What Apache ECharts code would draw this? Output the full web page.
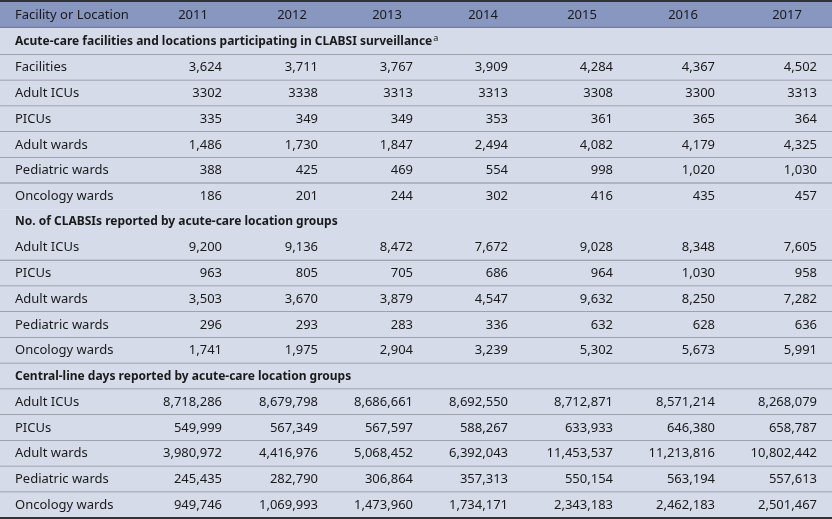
<!DOCTYPE html>
<html>
<head>
<meta charset="utf-8">
<script src="https://cdn.jsdelivr.net/npm/echarts@6/dist/echarts.min.js"></script>
<style>
  html, body { margin: 0; padding: 0; background: #fff; }
  #chart { width: 832px; height: 519px; }
</style>
</head>
<body>
<div id="chart"></div>
<script>
// column headers
const firstHeader = 'Facility or Location'
const years = ['2011', '2012', '2013', '2014', '2015', '2016', '2017']

// section titles
const sectionTitles = [
  'Acute-care facilities and locations participating in CLABSI surveillance',
  'No. of CLABSIs reported by acute-care location groups',
  'Central-line days reported by acute-care location groups',
]

// row labels per section
const facilityLabels = ['Facilities', 'Adult ICUs', 'PICUs', 'Adult wards', 'Pediatric wards', 'Oncology wards']
const locationLabels = ['Adult ICUs', 'PICUs', 'Adult wards', 'Pediatric wards', 'Oncology wards']

// participating facilities / locations
const participating = [
  ['3,624', '3,711', '3,767', '3,909', '4,284', '4,367', '4,502'],
  ['3302', '3338', '3313', '3313', '3308', '3300', '3313'],
  ['335', '349', '349', '353', '361', '365', '364'],
  ['1,486', '1,730', '1,847', '2,494', '4,082', '4,179', '4,325'],
  ['388', '425', '469', '554', '998', '1,020', '1,030'],
  ['186', '201', '244', '302', '416', '435', '457'],
]

// CLABSIs reported
const clabsis = [
  ['9,200', '9,136', '8,472', '7,672', '9,028', '8,348', '7,605'],
  ['963', '805', '705', '686', '964', '1,030', '958'],
  ['3,503', '3,670', '3,879', '4,547', '9,632', '8,250', '7,282'],
  ['296', '293', '283', '336', '632', '628', '636'],
  ['1,741', '1,975', '2,904', '3,239', '5,302', '5,673', '5,991'],
]

// central-line days reported
const lineDays = [
  ['8,718,286', '8,679,798', '8,686,661', '8,692,550', '8,712,871', '8,571,214', '8,268,079'],
  ['549,999', '567,349', '567,597', '588,267', '633,933', '646,380', '658,787'],
  ['3,980,972', '4,416,976', '5,068,452', '6,392,043', '11,453,537', '11,213,816', '10,802,442'],
  ['245,435', '282,790', '306,864', '357,313', '550,154', '563,194', '557,613'],
  ['949,746', '1,069,993', '1,473,960', '1,734,171', '2,343,183', '2,462,183', '2,501,467'],
]

// 布局: 每列数字的右边缘 (x 轴像素值)
const colRight = [222, 318, 413, 508, 613, 715, 817]
const headerCenter = [193, 292, 387, 483, 582, 683, 787]

const FONT = '"Noto Sans", sans-serif'
const HEADER_H = 28

// 拼出所有行
const rows = []
const pushSection = (title, labels, values) => {
  rows.push({ kind: 'section', label: title })
  labels.forEach((l, i) => rows.push({ kind: 'data', label: l, values: values[i] }))
}
pushSection(sectionTitles[0], facilityLabels, participating)
pushSection(sectionTitles[1], locationLabels, clabsis)
pushSection(sectionTitles[2], locationLabels, lineDays)

const chart = echarts.init(document.getElementById('chart'))

const renderItem = (params, api) => {
  const idx = api.value(0)
  const row = rows[idx]
  const center = api.coord([0, idx])
  const h = api.size([0, 1])[1]
  const top = center[1] - h / 2
  const left = api.coord([0, idx])[0]
  const right = api.coord([832, idx])[0]
  const children = [
    {
      type: 'rect',
      shape: { x: left, y: top, width: right - left, height: h },
      style: { fill: '#d5dbe8' },
    },
  ]
  // 行分隔线 (第二节标题前后没有)
  const next = rows[idx + 1]
  const noLine = (row.kind === 'section' && row.label === sectionTitles[1]) ||
    (next && next.label === sectionTitles[1]) || idx === rows.length - 1
  if (!noLine) {
    children.push({
      type: 'line',
      shape: { x1: left, y1: top + h, x2: right, y2: top + h },
      style: { stroke: '#8a8f9a', lineWidth: 1.6 },
    })
  }
  if (row.kind === 'section') {
    const isFirst = row.label === sectionTitles[0]
    children.push({
      type: 'text',
      style: {
        x: 15,
        y: center[1],
        text: isFirst ? row.label + '{sup|a}' : row.label,
        font: 'bold 12px ' + FONT,
        fill: '#1a1a1a',
        verticalAlign: 'middle',
        rich: { sup: { fontSize: 9, fontFamily: 'Noto Sans', verticalAlign: 'top', padding: [0, 0, 7, 1], fill: '#1a1a1a' } },
      },
    })
  } else {
    children.push({
      type: 'text',
      style: {
        x: 15, y: center[1], text: row.label,
        font: '13px ' + FONT, fill: '#1a1a1a', verticalAlign: 'middle',
      },
    })
    row.values.forEach((v, j) => {
      children.push({
        type: 'text',
        style: {
          x: api.coord([colRight[j], idx])[0],
          y: center[1],
          text: v,
          font: '13px ' + FONT,
          fill: '#1a1a1a',
          align: 'right',
          verticalAlign: 'middle',
        },
      })
    })
  }
  return { type: 'group', children }
}

const headerGraphics = [
  { type: 'rect', shape: { x: 0, y: 0, width: 832, height: HEADER_H }, style: { fill: '#8897c0' } },
  { type: 'line', shape: { x1: 0, y1: HEADER_H - 0.5, x2: 832, y2: HEADER_H - 0.5 }, style: { stroke: '#6e7ea8', lineWidth: 1.5 } },
  { type: 'line', shape: { x1: 0, y1: 1, x2: 832, y2: 1 }, style: { stroke: '#333', lineWidth: 2 } },
  { type: 'line', shape: { x1: 0, y1: 518, x2: 832, y2: 518 }, style: { stroke: '#333', lineWidth: 2 }, z: 100 },
  {
    type: 'text', x: 15, y: 15,
    style: { text: firstHeader, font: '13px ' + FONT, fill: '#1a1a1a', verticalAlign: 'middle' },
  },
  ...years.map((y, j) => ({
    type: 'text', x: headerCenter[j], y: 15,
    style: { text: y, font: '13px ' + FONT, fill: '#1a1a1a', align: 'center', verticalAlign: 'middle' },
  })),
]

const options = {
  animation: false,
  grid: { left: 0, right: 0, top: HEADER_H + 1, bottom: 1 },
  xAxis: { type: 'value', min: 0, max: 832, show: false },
  yAxis: {
    type: 'category',
    inverse: true,
    data: rows.map((r, i) => i),
    show: false,
  },
  graphic: headerGraphics,
  series: [
    {
      type: 'custom',
      renderItem,
      data: rows.map((r, i) => [i]),
      encode: { y: 0 },
      silent: true,
    },
  ],
}

chart.setOption(options)
</script>
</body>
</html>
